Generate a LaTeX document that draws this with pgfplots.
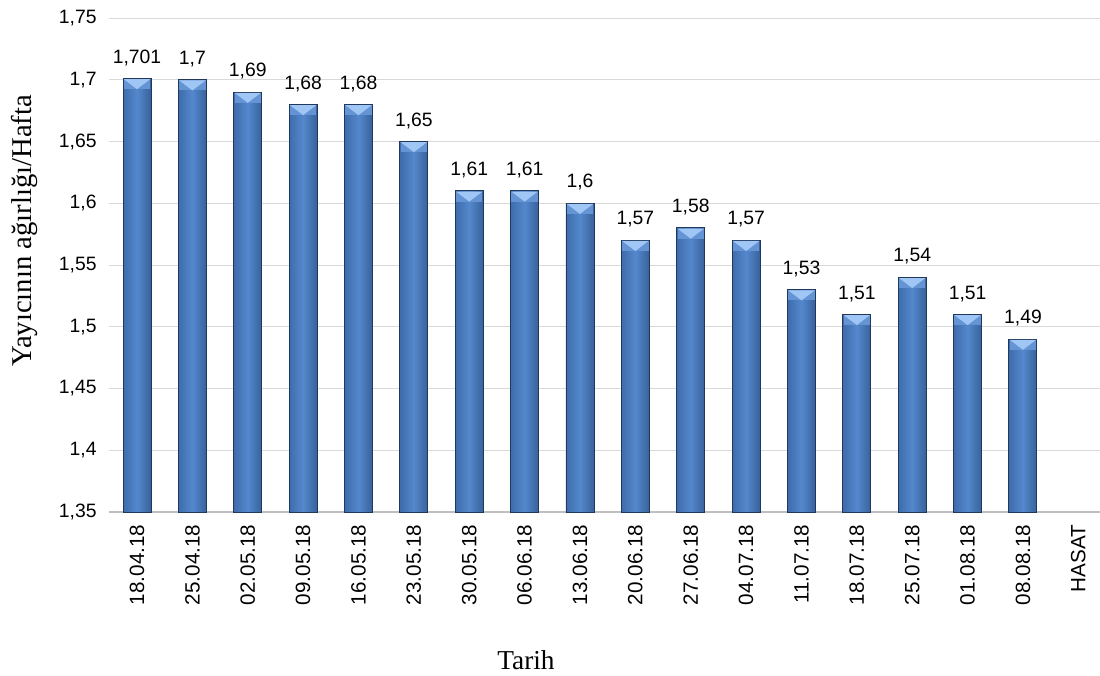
\documentclass[border=0pt]{standalone}
\usepackage{pgfplots}
\pgfplotsset{compat=1.18}
\usepackage{fontspec}
\setmainfont{Liberation Sans}
\newfontfamily\serif{Liberation Serif}
\definecolor{gridc}{RGB}{217,217,217}
\definecolor{axc}{RGB}{191,191,191}
\definecolor{bard}{RGB}{62,108,172}
\definecolor{barl}{RGB}{84,136,204}
\definecolor{bare}{RGB}{32,56,92}
\definecolor{bevmid}{RGB}{100,148,212}
\definecolor{bevlight}{RGB}{160,198,245}
\pgfdeclareplotmark{bevel}{%
  \pgfsetfillcolor{bevmid}%
  \pgfpathrectangle{\pgfpoint{-9.9pt}{-8pt}}{\pgfpoint{19.8pt}{7.5pt}}%
  \pgfusepath{fill}%
  \pgfsetfillcolor{bevlight}%
  \pgfpathmoveto{\pgfpoint{-9.9pt}{-0.5pt}}%
  \pgfpathlineto{\pgfpoint{9.9pt}{-0.5pt}}%
  \pgfpathlineto{\pgfpoint{0pt}{-8pt}}%
  \pgfpathclose
  \pgfusepath{fill}%
}
\pgfplotsset{
  onebar/.style={ybar, bar width=21pt, draw=bare, line width=0.7pt,
    left color=bard, right color=bard!90!black, middle color=barl,
    nodes near coords,
    every node near coord/.append style={font=\fontsize{14.5pt}{16pt}\selectfont,
      /pgf/number format/precision=3, /pgf/number format/use comma,
      /pgf/number format/assume math mode=true, yshift=6pt, text=black}},
}
\newcommand{\onebar}[2]{\addplot[onebar] coordinates {(#1,#2)};}
\begin{document}
\begin{tikzpicture}
\path[use as bounding box] (-82pt,-122.25pt) rectangle ++(825pt,506.25pt);
\begin{axis}[
  scale only axis,
  width=747.5pt, height=370.5pt,
  xmin=-0.5, xmax=17.5,
  ymin=1.35, ymax=1.75,
  ytick={1.35,1.4,...,1.76},
  xtick={0,...,17},
  xticklabels={18.04.18,25.04.18,02.05.18,09.05.18,16.05.18,23.05.18,30.05.18,06.06.18,13.06.18,20.06.18,27.06.18,04.07.18,11.07.18,18.07.18,25.07.18,01.08.18,08.08.18,HASAT},
  xticklabel style={rotate=90, anchor=east, font=\fontsize{15.5pt}{17pt}\selectfont, xshift=-6pt},
  yticklabel style={font=\fontsize{14.5pt}{16pt}\selectfont, xshift=-6pt},
  /pgf/number format/assume math mode=true,
  /pgf/number format/use comma,
  major tick length=0pt,
  ymajorgrids, grid style={gridc, line width=0.75pt},
  axis x line*=bottom,
  x axis line style={axc, line width=0.9pt, -},
  axis y line*=left,
  y axis line style={draw=none},
  ylabel={\serif Yayıcının ağırlığı/Hafta},
  ylabel style={font=\fontsize{21.5pt}{24pt}\selectfont, at={(axis description cs:-0.0856,0.569)}, anchor=center},
  xlabel={\serif Tarih},
  xlabel style={font=\fontsize{20.5pt}{23pt}\selectfont, at={(axis description cs:0.418,-0.2996)}, anchor=center},
  clip=true,
]
\onebar{0}{1.701}
\onebar{1}{1.70}
\onebar{2}{1.69}
\onebar{3}{1.68}
\onebar{4}{1.68}
\onebar{5}{1.65}
\onebar{6}{1.61}
\onebar{7}{1.61}
\onebar{8}{1.60}
\onebar{9}{1.57}
\onebar{10}{1.58}
\onebar{11}{1.57}
\onebar{12}{1.53}
\onebar{13}{1.51}
\onebar{14}{1.54}
\onebar{15}{1.51}
\onebar{16}{1.49}
\addplot[only marks, mark=bevel]
coordinates {
(0,1.701) (1,1.70) (2,1.69) (3,1.68) (4,1.68) (5,1.65) (6,1.61) (7,1.61) (8,1.60)
(9,1.57) (10,1.58) (11,1.57) (12,1.53) (13,1.51) (14,1.54) (15,1.51) (16,1.49)
};
\end{axis}
\end{tikzpicture}
\end{document}
